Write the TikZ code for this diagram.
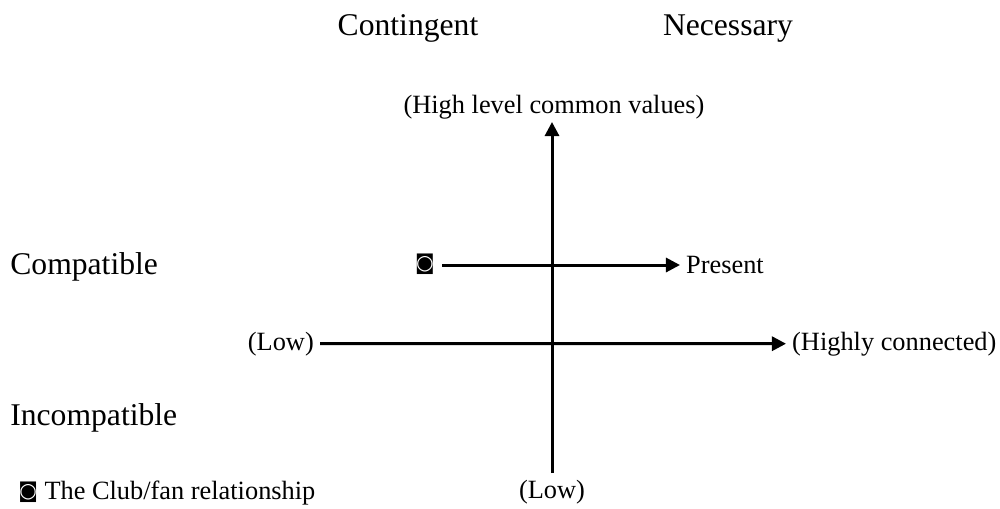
\documentclass[tikz,border=0pt]{standalone}
\usepackage{fontspec}
\setmainfont{Liberation Serif}
\newfontfamily\symfont{DejaVu Sans}
\usetikzlibrary{arrows.meta}
\newcommand{\clubmark}{\raisebox{1pt}{\symfont\fontsize{11.5}{12}\selectfont ◙}}
\tikzset{
  bigtext/.style={font=\fontsize{18}{20}\selectfont,anchor=base},
  smalltext/.style={font=\fontsize{15}{18}\selectfont,anchor=base},
  axis/.style={line width=1.7pt,-{Triangle[length=8pt,width=8pt]}}
}
\begin{document}
\begin{tikzpicture}[x=0.02cm,y=-0.02cm]
\useasboundingbox (0,0) rectangle (1000,508);
% column and row headings
\node[bigtext] (cont) at (408,35) {Contingent};
\node[bigtext] (nec) at (728,35) {Necessary};
\node[bigtext,anchor=base west,inner sep=0pt] (comp) at (10,274) {Compatible};
\node[bigtext,anchor=base west,inner sep=0pt] (incomp) at (10,425) {Incompatible};
% axis labels
\node[smalltext] (hival) at (554,113) {(High level common values)};
\node[smalltext] (lowv) at (552,498) {(Low)};
\node[smalltext,anchor=base east] (lowh) at (320,350) {(Low)};
\node[smalltext,anchor=base west] (hicon) at (786,350) {(Highly connected)};
\coordinate (vtop) at (552,122);
\coordinate (vbot) at (552,473);
\path[axis,draw] (vbot) -- (vtop);
\path[axis,draw] (lowh.east) -- (hicon.west);
% the club/fan relationship
\node[inner sep=0pt] (club) at (425,264) {\clubmark};
\node[smalltext,anchor=west] (pres) at (680,265) {Present};
\path[axis,draw] ([xshift=4pt]club.east |- pres.west) -- (pres.west);
\node[smalltext,anchor=base west,inner sep=0pt] (legend) at (18,499) {\clubmark\ The Club/fan relationship};
\end{tikzpicture}
\end{document}
